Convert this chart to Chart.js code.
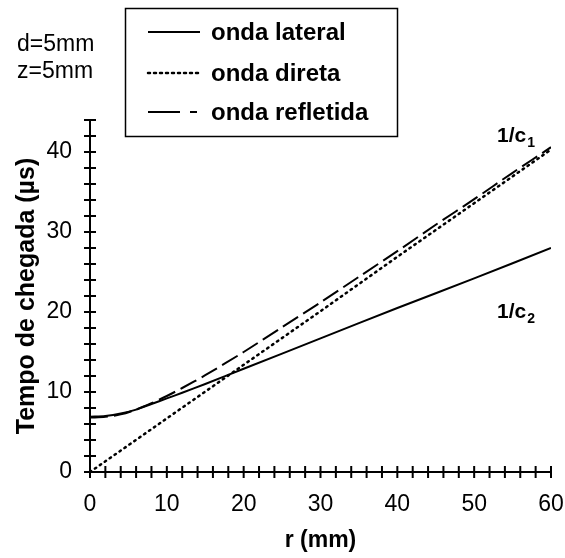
<!DOCTYPE html>
<html>
<head>
<meta charset="utf-8">
<script src="https://cdn.jsdelivr.net/npm/chart.js@4.4.0/dist/chart.umd.min.js"></script>
<style>
  html, body { margin: 0; padding: 0; background: #fff; }
</style>
</head>
<body>
<canvas id="chart" width="565" height="558"></canvas>
<script>
const FONT = '"Liberation Sans", Arial, Helvetica, sans-serif';

// values: r (mm) -> arrival time (µs)
const seriesLabels = ['onda lateral', 'onda direta', 'onda refletida'];
const rLateral = [0, 2, 4, 6, 8, 10, 12, 15, 20, 30, 40, 50, 60];
const tLateral = [6.9, 7.0, 7.3, 7.8, 8.5, 9.2, 9.9, 11.0, 12.9, 16.7, 20.5, 24.2, 28.0];
const rDirect = [0, 10, 20, 30, 40, 50, 60];
const tDirect = [0, 6.7, 13.4, 20.1, 26.9, 33.6, 40.3];
const rReflected = [0, 2, 4, 6, 8, 10, 12, 15, 20, 25, 30, 35, 40, 45, 50, 55, 60];
const tReflected = [6.8, 6.9, 7.2, 7.8, 8.6, 9.5, 10.5, 12.1, 15.0, 18.1, 21.2, 24.4, 27.6, 30.9, 34.1, 37.4, 40.6];

const xMax = 60, yMax = 44;
const xMinorStep = 2, yMinorStep = 2;
const noteLines = ['d=5mm', 'z=5mm'];
const slopeLabels = [{ text: '1/c', sub: '1', x: 60, y: 42 }, { text: '1/c', sub: '2', x: 60, y: 20 }];

function points(rs, ts) {
    return rs.map((r, i) => ({ x: r, y: ts[i] }));
}

// crossing ticks on both axes, every 2 units
const axisTicks = {
    id: 'axisTicks',
    afterDraw(chart) {
        const ctx = chart.ctx;
        const x = chart.scales.x, y = chart.scales.y;
        ctx.save();
        ctx.strokeStyle = '#000';
        ctx.lineWidth = 2;
        ctx.beginPath();
        for (let v = 0; v <= xMax; v += xMinorStep) {
            const px = x.getPixelForValue(v);
            ctx.moveTo(px, y.bottom - 6);
            ctx.lineTo(px, y.bottom + 6);
        }
        for (let v = 0; v <= yMax; v += yMinorStep) {
            const py = y.getPixelForValue(v);
            ctx.moveTo(x.left - 6, py);
            ctx.lineTo(x.left + 6, py);
        }
        ctx.stroke();
        ctx.restore();
    }
};

// boxed legend and the text notes
const notes = {
    id: 'notes',
    afterDraw(chart) {
        const ctx = chart.ctx;
        const x = chart.scales.x, y = chart.scales.y;
        ctx.save();
        ctx.fillStyle = '#000';
        ctx.textBaseline = 'middle';

        ctx.font = '23px ' + FONT;
        ctx.fillText(noteLines[0], 17, 45);
        ctx.fillText(noteLines[1], 17, 72);

        ctx.fillStyle = '#fff';
        ctx.fillRect(125, 8, 272, 128);
        ctx.strokeStyle = '#000';
        ctx.lineWidth = 1.5;
        ctx.strokeRect(125.5, 8.5, 272, 128);

        const rows = [32, 73, 112];
        const dashes = [[], [2, 4], [32, 10]];
        chart.data.datasets.forEach((ds, i) => {
            ctx.beginPath();
            ctx.setLineDash(dashes[i]);
            ctx.lineWidth = ds.borderWidth;
            ctx.lineCap = i === 1 ? 'round' : 'butt';
            ctx.moveTo(148, rows[i]);
            ctx.lineTo(i === 2 ? 197 : 200, rows[i]);
            ctx.stroke();
            ctx.setLineDash([]);
            ctx.fillStyle = '#000';
            ctx.font = 'bold 24px ' + FONT;
            ctx.fillText(ds.label, 211, rows[i] + 1);
        });

        slopeLabels.forEach(s => {
            const px = x.getPixelForValue(s.x);
            const py = y.getPixelForValue(s.y);
            ctx.font = 'bold 21px ' + FONT;
            const w = ctx.measureText(s.text).width;
            ctx.textAlign = 'left';
            const left = px - 54;
            ctx.fillText(s.text, left, py);
            ctx.font = 'bold 14px ' + FONT;
            ctx.fillText(s.sub, left + w + 1, py + 7);
        });
        ctx.restore();
    }
};

new Chart(document.getElementById('chart'), {
    type: 'line',
    data: {
        datasets: [
            {
                label: seriesLabels[0],
                data: points(rLateral, tLateral),
                borderColor: '#000',
                borderWidth: 2,
                pointRadius: 0,
                tension: 0.3
            },
            {
                label: seriesLabels[1],
                data: points(rDirect, tDirect),
                borderColor: '#000',
                borderWidth: 2.5,
                borderDash: [1.5, 4.5],
                borderCapStyle: 'round',
                pointRadius: 0
            },
            {
                label: seriesLabels[2],
                data: points(rReflected, tReflected),
                borderColor: '#000',
                borderWidth: 2,
                borderDash: [18, 6],
                pointRadius: 0,
                tension: 0.3
            }
        ]
    },
    options: {
        responsive: false,
        animation: false,
        events: [],
        layout: { padding: { left: 0, right: 0, top: 120, bottom: 0 } },
        plugins: {
            legend: { display: false },
            tooltip: { enabled: false }
        },
        scales: {
            x: {
                type: 'linear',
                min: 0,
                max: xMax,
                grid: { display: false },
                border: { display: true, color: '#000', width: 2 },
                ticks: { stepSize: 10, color: '#000', padding: 11, font: { family: FONT, size: 23 } },
                title: {
                    display: true,
                    text: 'r (mm)',
                    color: '#000',
                    padding: { top: 0, bottom: 4 },
                    font: { family: FONT, size: 23, weight: 'bold' }
                },
                afterFit(scale) {
                    scale.height = 86;
                    scale.paddingRight = 14;
                }
            },
            y: {
                min: 0,
                max: yMax,
                grid: { display: false },
                border: { display: true, color: '#000', width: 2 },
                ticks: {
                    stepSize: 10,
                    color: '#000',
                    padding: 10,
                    font: { family: FONT, size: 23 },
                    callback: v => (v % 10 === 0 ? v : '')
                },
                title: {
                    display: true,
                    text: 'Tempo de chegada (µs)',
                    color: '#000',
                    padding: { top: 12, bottom: 0 },
                    font: { family: FONT, size: 25, weight: 'bold' }
                },
                afterFit(scale) { scale.width = 90; }
            }
        }
    },
    plugins: [axisTicks, notes]
});
</script>
</body>
</html>
